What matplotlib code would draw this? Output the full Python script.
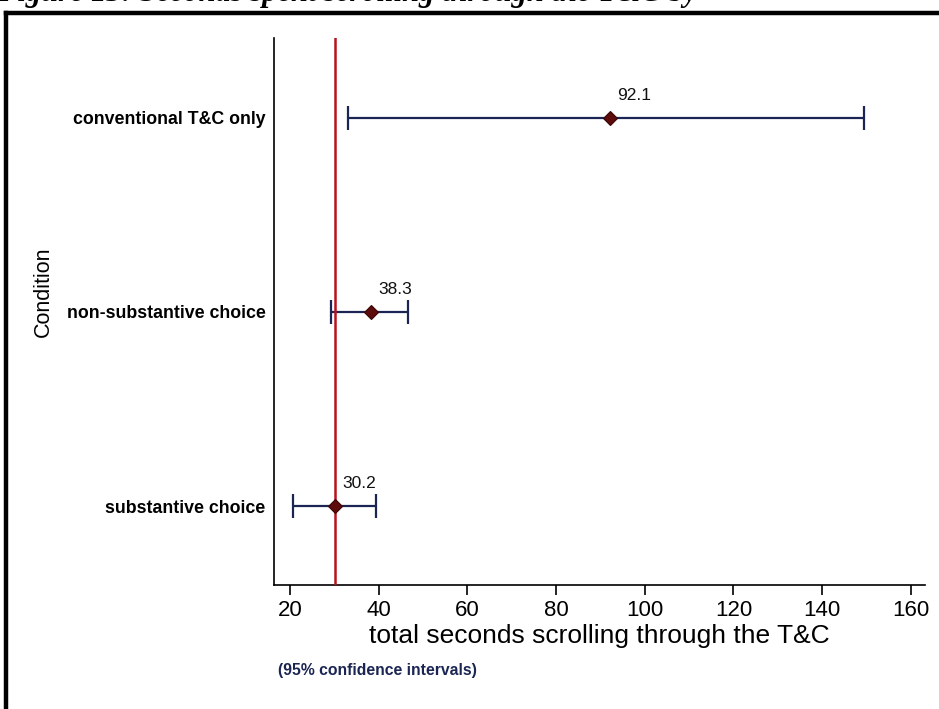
import matplotlib
matplotlib.use("Agg")
import matplotlib.pyplot as plt
from matplotlib.lines import Line2D

# Mean seconds spent scrolling through the T&C, with 95% confidence limits
conditions = ["conventional T&C only", "non-substantive choice", "substantive choice"]
means = [92.1, 38.3, 30.2]
ci_low = [33.0, 29.3, 20.7]
ci_high = [149.4, 46.7, 39.5]
x_ticks = [20, 40, 60, 80, 100, 120, 140, 160]

W, H = 939, 709
fig = plt.figure(figsize=(W / 100, H / 100), dpi=100)
fig.patch.set_facecolor("white")

sans = ["Liberation Sans", "DejaVu Sans"]
navy = "#1b2553"
dark_red = "#5e0b0b"
ref_red = "#b8121c"

# plot region in pixel terms
left_px, right_px, top_px, bottom_px = 274, 925, 38, 585
ax = fig.add_axes([left_px / W, 1 - bottom_px / H,
                   (right_px - left_px) / W, (bottom_px - top_px) / H])

ypos = [3, 2, 1]
for y, m, lo, hi in zip(ypos, means, ci_low, ci_high):
    ax.errorbar(m, y, xerr=[[m - lo], [hi - m]], fmt="none", ecolor=navy,
                elinewidth=1.6, capsize=8.5, capthick=1.6, zorder=3)
    ax.plot(m, y, marker="D", ms=6.8, color=dark_red, mec="#3a0505",
            mew=0.8, zorder=5)
    ax.annotate(f"{m:.1f}", (m, y), xytext=(5, 11), textcoords="offset points",
                ha="left", va="bottom", fontsize=12.5, family=sans,
                color="#111111")

# reference line at the substantive-choice mean
ax.axvline(means[2], color=ref_red, lw=1.8, zorder=4)

ax.set_xlim(16.4, 163.2)
ax.set_ylim(0.593, 3.412)
ax.set_xticks(x_ticks)
ax.set_xticklabels([str(t) for t in x_ticks], fontsize=16, family=sans)
ax.set_yticks(ypos)
ax.set_yticklabels(conditions, fontsize=12.8, fontweight="bold", family=sans)
ax.tick_params(axis="x", length=7, width=1.2, pad=4, colors="black")
ax.tick_params(axis="y", length=0, pad=6)

for side in ("top", "right"):
    ax.spines[side].set_visible(False)
for side in ("left", "bottom"):
    ax.spines[side].set_linewidth(1.2)
    ax.spines[side].set_color("black")

ax.set_xlabel("total seconds scrolling through the T&C", fontsize=19,
              family=sans, labelpad=2)

fig.text(43 / W, 1 - 292 / H, "Condition", rotation=90, ha="center",
         va="center", fontsize=15.5, family=sans)
fig.text(278 / W, 1 - 671 / H, "(95% confidence intervals)", ha="left",
         va="center", fontsize=11.3, fontweight="bold", family=sans, color=navy)

# caption running off the top edge
fig.text(-3 / W, 1 - 1.0 / H,
         "Figure 13: Seconds spent scrolling through the T&C by",
         ha="left", va="baseline", fontsize=22, fontweight="bold",
         fontstyle="italic", family=["Liberation Serif", "DejaVu Serif"])

# heavy frame around the figure
fig.add_artist(Line2D([6 / W, 6 / W], [1 - 13 / H, -0.05], transform=fig.transFigure,
                      color="black", lw=3.2, solid_capstyle="projecting"))
fig.add_artist(Line2D([6 / W, 1.05], [1 - 13 / H, 1 - 13 / H], transform=fig.transFigure,
                      color="black", lw=3.2, solid_capstyle="projecting"))

fig.savefig("out.png", dpi=100, facecolor="white")
